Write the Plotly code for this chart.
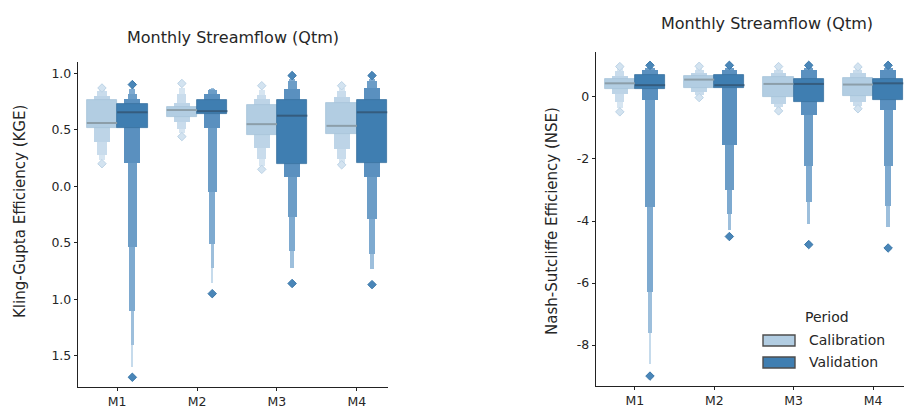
import plotly.graph_objects as go
from plotly.subplots import make_subplots

models = ["M1", "M2", "M3", "M4"]

# Kling-Gupta Efficiency: letter-value boxes listed from the IQR box outward
kge_cal_median = [0.56, 0.675, 0.55, 0.535]
kge_cal_lower = [[0.52, 0.39, 0.28, 0.23], [0.61, 0.57, 0.51, 0.47],
                 [0.45, 0.34, 0.24, 0.18], [0.46, 0.33, 0.24, 0.21]]
kge_cal_upper = [[0.76, 0.80, 0.84, 0.86], [0.70, 0.74, 0.82, 0.87],
                 [0.72, 0.77, 0.81, 0.85], [0.74, 0.79, 0.84, 0.87]]
kge_cal_outliers = [[0.20, 0.87], [0.44, 0.91], [0.15, 0.89], [0.19, 0.89]]

kge_val_median = [0.655, 0.665, 0.625, 0.655]
kge_val_lower = [[0.52, 0.21, -0.54, -1.10, -1.40, -1.60],
                 [0.64, 0.52, -0.05, -0.51, -0.72, -0.86],
                 [0.20, 0.08, -0.27, -0.57, -0.72],
                 [0.21, 0.085, -0.29, -0.60, -0.73]]
kge_val_upper = [[0.73, 0.77, 0.82, 0.86, 0.88, 0.89],
                 [0.76, 0.82, 0.85, 0.86, 0.87, 0.87],
                 [0.76, 0.86, 0.93, 0.95, 0.96],
                 [0.76, 0.87, 0.93, 0.95, 0.96]]
kge_val_outliers = [[-1.69, 0.90], [-0.95], [-0.86, 0.98], [-0.87, 0.98]]

# Nash-Sutcliffe Efficiency
nse_cal_median = [0.44, 0.56, 0.42, 0.40]
nse_cal_lower = [[0.27, 0.08, -0.15, -0.35], [0.28, 0.16, 0.05, 0.02],
                 [0.01, -0.22, -0.33, -0.40], [0.02, -0.16, -0.28, -0.34]]
nse_cal_upper = [[0.57, 0.68, 0.85, 0.93], [0.67, 0.78, 0.88, 0.95],
                 [0.66, 0.78, 0.88, 0.95], [0.62, 0.76, 0.86, 0.93]]
nse_cal_outliers = [[-0.48, 0.98], [-0.02, 0.99], [-0.45, 0.98], [-0.38, 0.97]]

nse_val_median = [0.38, 0.38, 0.42, 0.44]
nse_val_lower = [[0.27, -0.11, -3.55, -6.30, -7.60, -8.60],
                 [0.28, -1.56, -3.01, -3.77, -4.30],
                 [-0.15, -0.58, -2.21, -3.40, -4.09],
                 [-0.11, -0.43, -2.21, -3.50, -4.20]]
nse_val_upper = [[0.70, 0.86, 0.93, 0.96, 0.97, 0.98],
                 [0.70, 0.86, 0.93, 0.96, 0.97],
                 [0.57, 0.86, 0.93, 0.96, 0.97],
                 [0.57, 0.86, 0.93, 0.96, 0.97]]
nse_val_outliers = [[-9.0, 1.02], [-4.50, 1.02], [-4.76, 1.02], [-4.87, 1.02]]

kge_ticks = [1.0, 0.5, 0.0, -0.5, -1.0, -1.5]
kge_ticktext = ["1.0", "0.5", "0.0", "0.5", "1.0", "1.5"]
nse_ticks = [0, -2, -4, -6, -8]
nse_ticktext = ["0", "-2", "-4", "-6", "-8"]

title_text = "Monthly Streamflow (Qtm)"
kge_label = "Kling-Gupta Efficiency (KGE)"
nse_label = "Nash-Sutcliffe Efficiency (NSE)"
legend_title = "Period"
period_names = ["Calibration", "Validation"]

# ---- style ----
FONT = "DejaVu Sans"
TXT = "#262626"
BOX_W = 0.38
OFFSET = 0.19
LEVEL_SCALE = [1.0, 0.52, 0.30, 0.19, 0.11, 0.07]
CAL_COLORS = ["#b2cde2", "#bdd4e7", "#c9dcec", "#d6e5f1", "#e2ecf5", "#edf3f9"]
VAL_COLORS = ["#3f7eb1", "#5a90bf", "#6c9dc7", "#7eaad0", "#9dbfdc", "#c6dbec"]
CAL_EDGE = "#a7c3d9"
VAL_EDGE = "#3a72a0"
CAL_MEDIAN = "#8c9ea9"
VAL_MEDIAN = "#355c7e"

fig = make_subplots(rows=1, cols=2)


def add_period(col, median, lower, upper, outliers, offset, colors, edge,
               median_color, out_fill, out_line):
    nlev = max(len(l) for l in lower)
    for k in reversed(range(nlev)):
        xs, bases, heights, widths = [], [], [], []
        for i in range(len(models)):
            if k < len(lower[i]):
                xs.append(i + offset)
                bases.append(lower[i][k])
                heights.append(upper[i][k] - lower[i][k])
                widths.append(BOX_W * LEVEL_SCALE[k])
        fig.add_trace(go.Bar(
            x=xs, y=heights, base=bases, width=widths,
            marker=dict(color=colors[k],
                        line=dict(color=edge if k == 0 else colors[k],
                                  width=0.8 if k == 0 else 0)),
            showlegend=False, hoverinfo="skip"), row=1, col=col)
    mx, my = [], []
    for i, m in enumerate(median):
        c = i + offset
        mx += [c - BOX_W / 2, c + BOX_W / 2, None]
        my += [m, m, None]
    fig.add_trace(go.Scatter(x=mx, y=my, mode="lines",
                             line=dict(color=median_color, width=2),
                             showlegend=False, hoverinfo="skip"), row=1, col=col)
    ox, oy = [], []
    for i, pts in enumerate(outliers):
        for p in pts:
            ox.append(i + offset)
            oy.append(p)
    fig.add_trace(go.Scatter(x=ox, y=oy, mode="markers",
                             marker=dict(symbol="diamond", size=6.5, color=out_fill,
                                         line=dict(color=out_line, width=1)),
                             showlegend=False, hoverinfo="skip"), row=1, col=col)


add_period(1, kge_cal_median, kge_cal_lower, kge_cal_upper, kge_cal_outliers,
           -OFFSET, CAL_COLORS, CAL_EDGE, CAL_MEDIAN, "#d3e3f0", "#bcd3e6")
add_period(1, kge_val_median, kge_val_lower, kge_val_upper, kge_val_outliers,
           OFFSET, VAL_COLORS, VAL_EDGE, VAL_MEDIAN, "#4a86b8", "#3a78aa")
add_period(2, nse_cal_median, nse_cal_lower, nse_cal_upper, nse_cal_outliers,
           -OFFSET, CAL_COLORS, CAL_EDGE, CAL_MEDIAN, "#d3e3f0", "#bcd3e6")
add_period(2, nse_val_median, nse_val_lower, nse_val_upper, nse_val_outliers,
           OFFSET, VAL_COLORS, VAL_EDGE, VAL_MEDIAN, "#4a86b8", "#3a78aa")

W, H = 904, 408


def px(x):
    return x / W


def py(y):
    return 1 - y / H


axis_common = dict(showgrid=False, zeroline=False, showline=True, automargin=False,
                   linecolor="#222222", linewidth=1.4, ticks="outside",
                   ticklen=3, tickwidth=1.2, tickcolor="#222222",
                   tickfont=dict(family=FONT, size=12.5, color=TXT))

fig.update_xaxes(**axis_common, tickvals=list(range(len(models))), ticktext=models,
                 range=[-0.49, 3.39])
fig.update_xaxes(domain=[px(78), px(388)], row=1, col=1)
fig.update_xaxes(domain=[px(596), 1.0], row=1, col=2)
fig.update_yaxes(**axis_common)
fig.update_yaxes(domain=[py(387), py(62)], range=[-1.776, 1.10],
                 tickvals=kge_ticks, ticktext=kge_ticktext, row=1, col=1)
fig.update_yaxes(domain=[py(386), py(52)], range=[-9.32, 1.45],
                 tickvals=nse_ticks, ticktext=nse_ticktext, row=1, col=2)

annotations = [
    dict(text=title_text, x=px(233), y=py(37), font=dict(size=16)),
    dict(text=title_text, x=px(767), y=py(23), font=dict(size=16)),
    dict(text=kge_label, x=px(20), y=py(212), textangle=-90, font=dict(size=15)),
    dict(text=nse_label, x=px(552), y=py(221), textangle=-90, font=dict(size=15)),
    dict(text=legend_title, x=px(827), y=py(317), font=dict(size=14)),
    dict(text=period_names[0], x=px(807), y=py(340), xanchor="left", font=dict(size=14)),
    dict(text=period_names[1], x=px(807), y=py(362), xanchor="left", font=dict(size=14)),
]
for a in annotations:
    a.setdefault("xanchor", "center")
    a.update(xref="paper", yref="paper", yanchor="middle", showarrow=False)
    a["font"].update(family=FONT, color=TXT)

shapes = [
    dict(type="rect", xref="paper", yref="paper", x0=px(763), x1=px(795),
         y0=py(346), y1=py(335), fillcolor=CAL_COLORS[0],
         line=dict(color="#4d4d4d", width=1.4)),
    dict(type="rect", xref="paper", yref="paper", x0=px(763), x1=px(795),
         y0=py(368), y1=py(357), fillcolor=VAL_COLORS[0],
         line=dict(color="#4d4d4d", width=1.4)),
]

fig.update_layout(
    width=W, height=H, margin=dict(l=0, r=0, t=0, b=0, autoexpand=False),
    paper_bgcolor="white", plot_bgcolor="white",
    barmode="overlay", bargap=0, showlegend=False,
    annotations=annotations, shapes=shapes,
)

fig.write_html("out.html")
